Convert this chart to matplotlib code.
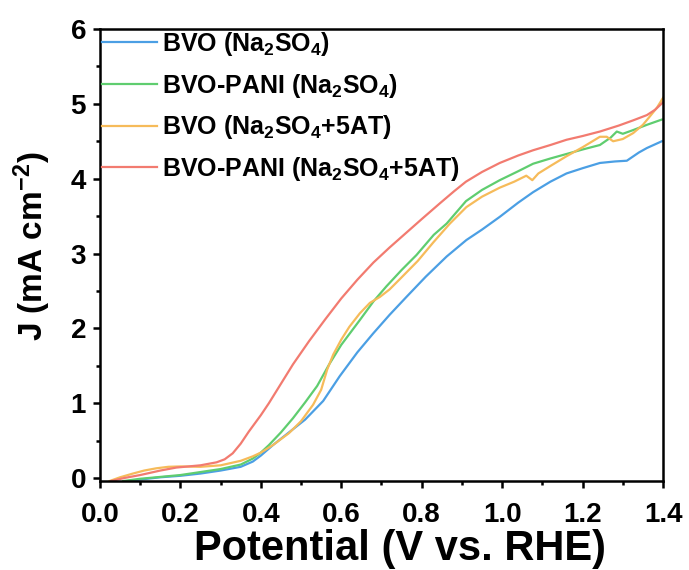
import matplotlib
matplotlib.use('Agg')
import matplotlib.pyplot as plt
from matplotlib.ticker import MultipleLocator, FormatStrFormatter

plt.rcParams['font.family'] = 'Liberation Sans'
plt.rcParams['font.weight'] = 'bold'
plt.rcParams['mathtext.fontset'] = 'custom'
plt.rcParams['mathtext.rm'] = 'Liberation Sans:bold'
plt.rcParams['mathtext.bf'] = 'Liberation Sans:bold'
plt.rcParams['mathtext.default'] = 'bf'

# LSV curves: potential (V vs. RHE) against current density (mA cm-2)
bvo_x = [0.07, 0.10, 0.15, 0.20, 0.25, 0.30, 0.35, 0.38, 0.40, 0.43, 0.47, 0.51,
         0.555, 0.596, 0.64, 0.679, 0.72, 0.762, 0.81, 0.862, 0.911, 0.95, 0.994,
         1.04, 1.077, 1.12, 1.16, 1.20, 1.243, 1.28, 1.31, 1.34, 1.36, 1.397]
bvo_y = [-0.04, -0.02, 0.01, 0.03, 0.06, 0.10, 0.15, 0.22, 0.30, 0.44, 0.61, 0.78,
         1.03, 1.36, 1.68, 1.93, 2.18, 2.42, 2.69, 2.96, 3.18, 3.32, 3.49,
         3.68, 3.82, 3.96, 4.07, 4.14, 4.21, 4.23, 4.24, 4.35, 4.41, 4.50]

pani_x = [0.058, 0.10, 0.14, 0.20, 0.25, 0.30, 0.35, 0.38, 0.40, 0.42, 0.45, 0.48,
          0.51, 0.54, 0.57, 0.60, 0.646, 0.68, 0.712, 0.75, 0.787, 0.83, 0.862,
          0.91, 0.95, 0.994, 1.04, 1.077, 1.12, 1.16, 1.20, 1.243, 1.27, 1.285,
          1.30, 1.326, 1.36, 1.397]
pani_y = [-0.04, -0.01, 0.01, 0.04, 0.08, 0.12, 0.18, 0.26, 0.34, 0.44, 0.61, 0.80,
          1.01, 1.23, 1.52, 1.78, 2.11, 2.36, 2.56, 2.78, 2.98, 3.25, 3.40,
          3.70, 3.85, 3.98, 4.10, 4.20, 4.27, 4.33, 4.39, 4.45, 4.55, 4.63,
          4.60, 4.65, 4.72, 4.79]

bvo_at_x = [0.024, 0.05, 0.082, 0.11, 0.14, 0.17, 0.20, 0.25, 0.30, 0.35, 0.38,
            0.40, 0.43, 0.47, 0.50, 0.53, 0.55, 0.565, 0.58, 0.60, 0.62, 0.646,
            0.671, 0.696, 0.72, 0.746, 0.79, 0.829, 0.87, 0.911, 0.95, 0.994,
            1.03, 1.06, 1.075, 1.09, 1.12, 1.16, 1.20, 1.243, 1.26, 1.276, 1.30,
            1.326, 1.35, 1.367, 1.385, 1.40]
bvo_at_y = [-0.04, 0.01, 0.06, 0.10, 0.13, 0.15, 0.155, 0.15, 0.17, 0.23, 0.29,
            0.34, 0.44, 0.60, 0.76, 0.98, 1.18, 1.45, 1.65, 1.85, 2.02, 2.20,
            2.34, 2.42, 2.52, 2.66, 2.90, 3.15, 3.40, 3.62, 3.76, 3.88,
            3.96, 4.04, 3.98, 4.07, 4.17, 4.30, 4.42, 4.56, 4.56, 4.50, 4.53,
            4.61, 4.72, 4.83, 4.95, 5.08]

pani_at_x = [0.028, 0.06, 0.10, 0.15, 0.19, 0.25, 0.29, 0.31, 0.33, 0.35, 0.37,
             0.40, 0.42, 0.45, 0.48, 0.52, 0.56, 0.60, 0.64, 0.68, 0.72, 0.76,
             0.80, 0.845, 0.88, 0.91, 0.95, 0.994, 1.04, 1.077, 1.12, 1.16,
             1.20, 1.243, 1.29, 1.326, 1.36, 1.38, 1.40]
pani_at_y = [-0.04, 0.0, 0.04, 0.10, 0.14, 0.17, 0.21, 0.25, 0.33, 0.46, 0.62,
             0.84, 1.00, 1.26, 1.52, 1.83, 2.12, 2.40, 2.65, 2.88, 3.08, 3.27,
             3.46, 3.67, 3.83, 3.96, 4.09, 4.21, 4.31, 4.38, 4.45, 4.52,
             4.57, 4.63, 4.71, 4.78, 4.85, 4.92, 5.02]

labels = [r'BVO (Na$_2$SO$_4$)', r'BVO-PANI (Na$_2$SO$_4$)',
          r'BVO (Na$_2$SO$_4$+5AT)', r'BVO-PANI (Na$_2$SO$_4$+5AT)']
colors = ['#4b9fe4', '#5fcd6f', '#f6bb5a', '#f27b70']

fig = plt.figure(figsize=(6.89, 5.70), dpi=100)
ax = fig.add_axes([0.1451, 0.1561, 0.8172, 0.793])

series = [(bvo_x, bvo_y), (pani_x, pani_y), (bvo_at_x, bvo_at_y), (pani_at_x, pani_at_y)]
for (x, y), lab, c in zip(series, labels, colors):
    ax.plot(x, y, color=c, lw=1.6, label=lab, solid_joinstyle='round')

ax.set_xlim(0, 1.4)
ax.set_ylim(-0.04, 6)
ax.xaxis.set_major_locator(MultipleLocator(0.2))
ax.xaxis.set_minor_locator(MultipleLocator(0.1))
ax.yaxis.set_major_locator(MultipleLocator(1))
ax.yaxis.set_minor_locator(MultipleLocator(0.5))
ax.xaxis.set_major_formatter(FormatStrFormatter('%.1f'))

for s in ax.spines.values():
    s.set_linewidth(1.8)
ax.tick_params(which='major', direction='out', length=5, width=1.8, labelsize=20)
ax.tick_params(which='minor', direction='out', length=3, width=1.8)
ax.tick_params(axis='x', which='major', pad=10)
ax.tick_params(axis='y', which='major', pad=5)

ax.set_xlabel('Potential (V vs. RHE)', fontsize=30, fontweight='bold', labelpad=1, x=0.532)
ax.set_ylabel(r'J (mA cm$^{-2}$)', fontsize=24, fontweight='bold', labelpad=13, y=0.52)

ax.legend(loc='upper left', frameon=False, fontsize=18, handlelength=2.2,
          labelspacing=0.55, handletextpad=0.2, borderpad=0.0,
          borderaxespad=0.0, bbox_to_anchor=(0.004, 0.998))

fig.savefig('out.png', dpi=100)
